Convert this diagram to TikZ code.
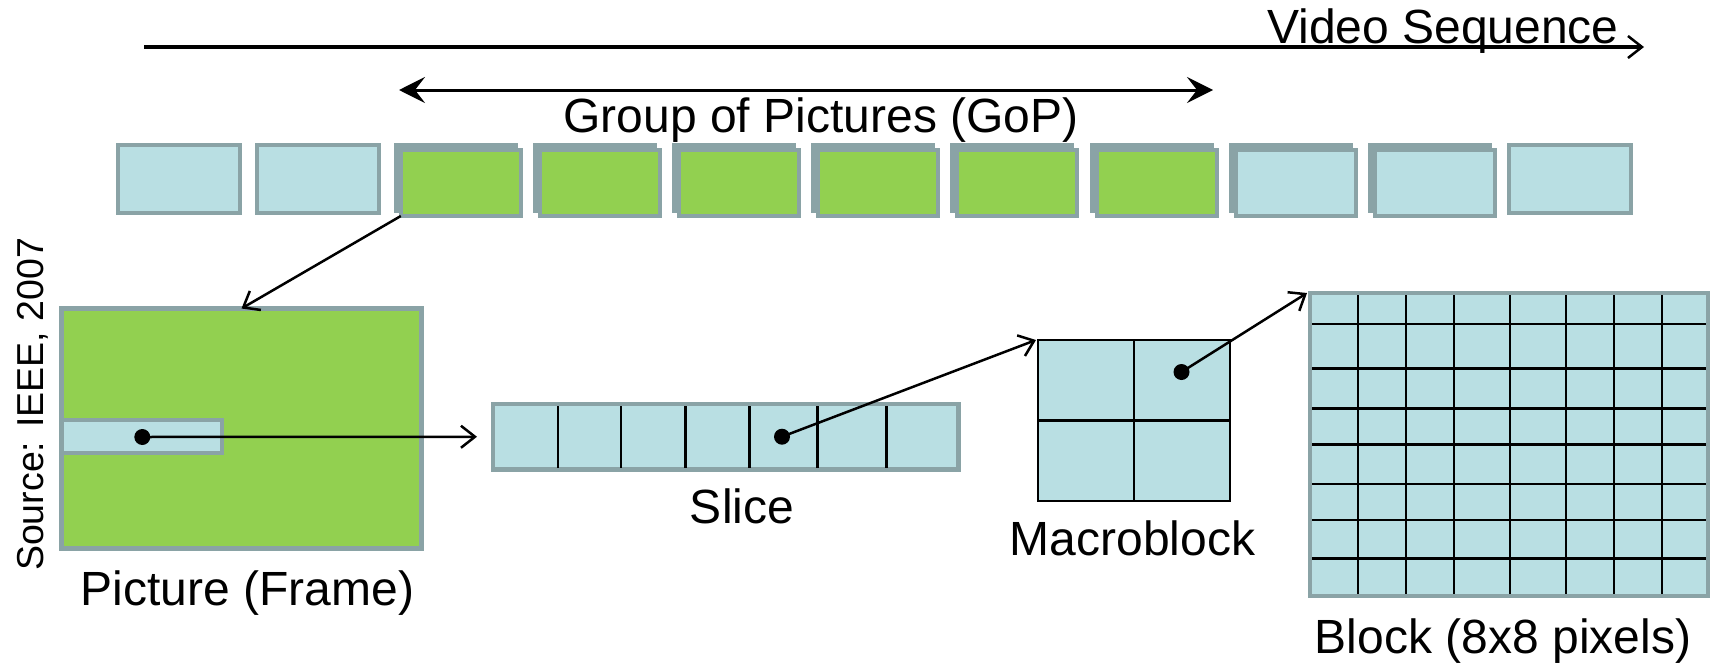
\documentclass[tikz,border=0pt]{standalone}
\usepackage{fontspec}
\setmainfont{Liberation Sans}
\usetikzlibrary{arrows.meta,shadows,calc}
\definecolor{bgray}{HTML}{8AA3A6}
\definecolor{lblue}{HTML}{B9DFE3}
\definecolor{lgreen}{HTML}{92D050}
\begin{document}
\begin{tikzpicture}[x=1pt,y=-1pt,
  lbl/.style={inner sep=0, font=\fontsize{48}{57}\selectfont},
  simplebox/.style={draw=bgray, line width=4pt, fill=lblue, minimum width=122pt, minimum height=68pt, inner sep=0, outer sep=0},
  shadbox/.style={draw=bgray, line width=4pt, minimum width=120pt, minimum height=66pt, inner sep=0, outer sep=0,
     general shadow={fill=bgray, draw=bgray, line width=4pt, shadow xshift=-5pt, shadow yshift=5pt}},
  panel/.style={draw=bgray, line width=4.5pt, inner sep=0, outer sep=0},
  conn/.style={line width=2.5pt, -{Straight Barb[length=14pt,width=22pt,line width=2.5pt]}},
  dotc/.style={circle, fill=black, inner sep=0, minimum size=16pt},
  gridline/.style={line width=2.7pt}
]
\useasboundingbox (0,0) rectangle (1710,664);

% frame row
\node[simplebox] (b1) at (178.5,179) {};
\node[simplebox] (b2) at (317.65,179) {};
\node[shadbox, fill=lgreen] (b3) at (460.8,183) {};
\node[shadbox, fill=lgreen] (b4) at (599.95,183) {};
\node[shadbox, fill=lgreen] (b5) at (739.1,183) {};
\node[shadbox, fill=lgreen] (b6) at (878.25,183) {};
\node[shadbox, fill=lgreen] (b7) at (1017.4,183) {};
\node[shadbox, fill=lgreen] (b8) at (1156.55,183) {};
\node[shadbox, fill=lblue] (b9) at (1295.7,183) {};
\node[shadbox, fill=lblue] (b10) at (1434.85,183) {};
\node[simplebox] (b11) at (1570,179) {};

% video sequence arrow
\coordinate (vs0) at (144,47);
\coordinate (vs1) at (1644,47);
\draw[line width=3.5pt, -{Straight Barb[length=14pt,width=22pt,line width=2.5pt]}] (vs0) -- (vs1);
\node[lbl, anchor=base] (vslbl) at (1443,43) {Video Sequence};

% GoP arrow
\coordinate (gop0) at (399,90);
\coordinate (gop1) at (1213,90);
\draw[line width=3pt, {Stealth[length=26pt,width=26pt,inset=10pt]}-{Stealth[length=26pt,width=26pt,inset=10pt]}] (gop0) -- (gop1);
\node[lbl, anchor=base] (goplbl) at (821,132) {Group of Pictures (GoP)};

% picture
\node[panel, fill=lgreen, minimum width=360pt, minimum height=240pt] (picture) at (241.5,428.5) {};
\node[panel, fill=lblue, minimum width=160.5pt, minimum height=33pt] (pslice) at (141.75,436.5) {};
\node[dotc] (dot1) at (142.3,437) {};
\draw[conn] (b3.south west) -- (picture.north);
\node[lbl, anchor=base] (piclbl) at (247.5,605) {Picture (Frame)};

% slice
\node[panel, fill=lblue, minimum width=465.5pt, minimum height=65.5pt] (slice) at (725.75,436.75) {};
\foreach \xx in {558,621,685.6,749.4,817.8,886.6}
  \draw[gridline] (\xx,406) -- (\xx,467.5);
\node[dotc] (dot2) at (782,436.7) {};
\coordinate (slicetip) at ([xshift=-16pt]slice.west);
\draw[conn] (dot1.center) -- (slicetip);
\node[lbl, anchor=base] (slicelbl) at (742,523) {Slice};

% macroblock
\node[draw=black, line width=2.5pt, fill=lblue, minimum width=192pt, minimum height=161pt, inner sep=0, outer sep=0] (macro) at (1134,420.5) {};
\draw[gridline] (macro.north) -- (macro.south);
\draw[gridline] (macro.west) -- (macro.east);
\node[dotc] (dot3) at (1181.5,372) {};
\draw[conn] (dot2.center) -- ([xshift=-2pt]macro.north west);
\node[lbl, anchor=base] (macrolbl) at (1132.5,555) {Macroblock};

% block
\node[panel, fill=lblue, minimum width=398pt, minimum height=303pt] (block) at (1509,444.5) {};
\foreach \xx in {1358,1406,1454,1510,1566,1614,1662}
  \draw[gridline] (\xx,295) -- (\xx,594);
\foreach \yy in {324,368.3,408.3,444.7,484,520,558.3}
  \draw[gridline] (1312,\yy) -- (1706,\yy);
\draw[conn] (dot3.center) -- ([xshift=-3pt]block.north west);
\node[lbl, anchor=base] (blocklbl) at (1503,653) {Block (8x8 pixels)};

% source
\node[inner sep=0, font=\fontsize{37.5}{44}\selectfont, rotate=90, anchor=base] (srclbl) at (43,404.5) {Source: IEEE, 2007};
\end{tikzpicture}
\end{document}
